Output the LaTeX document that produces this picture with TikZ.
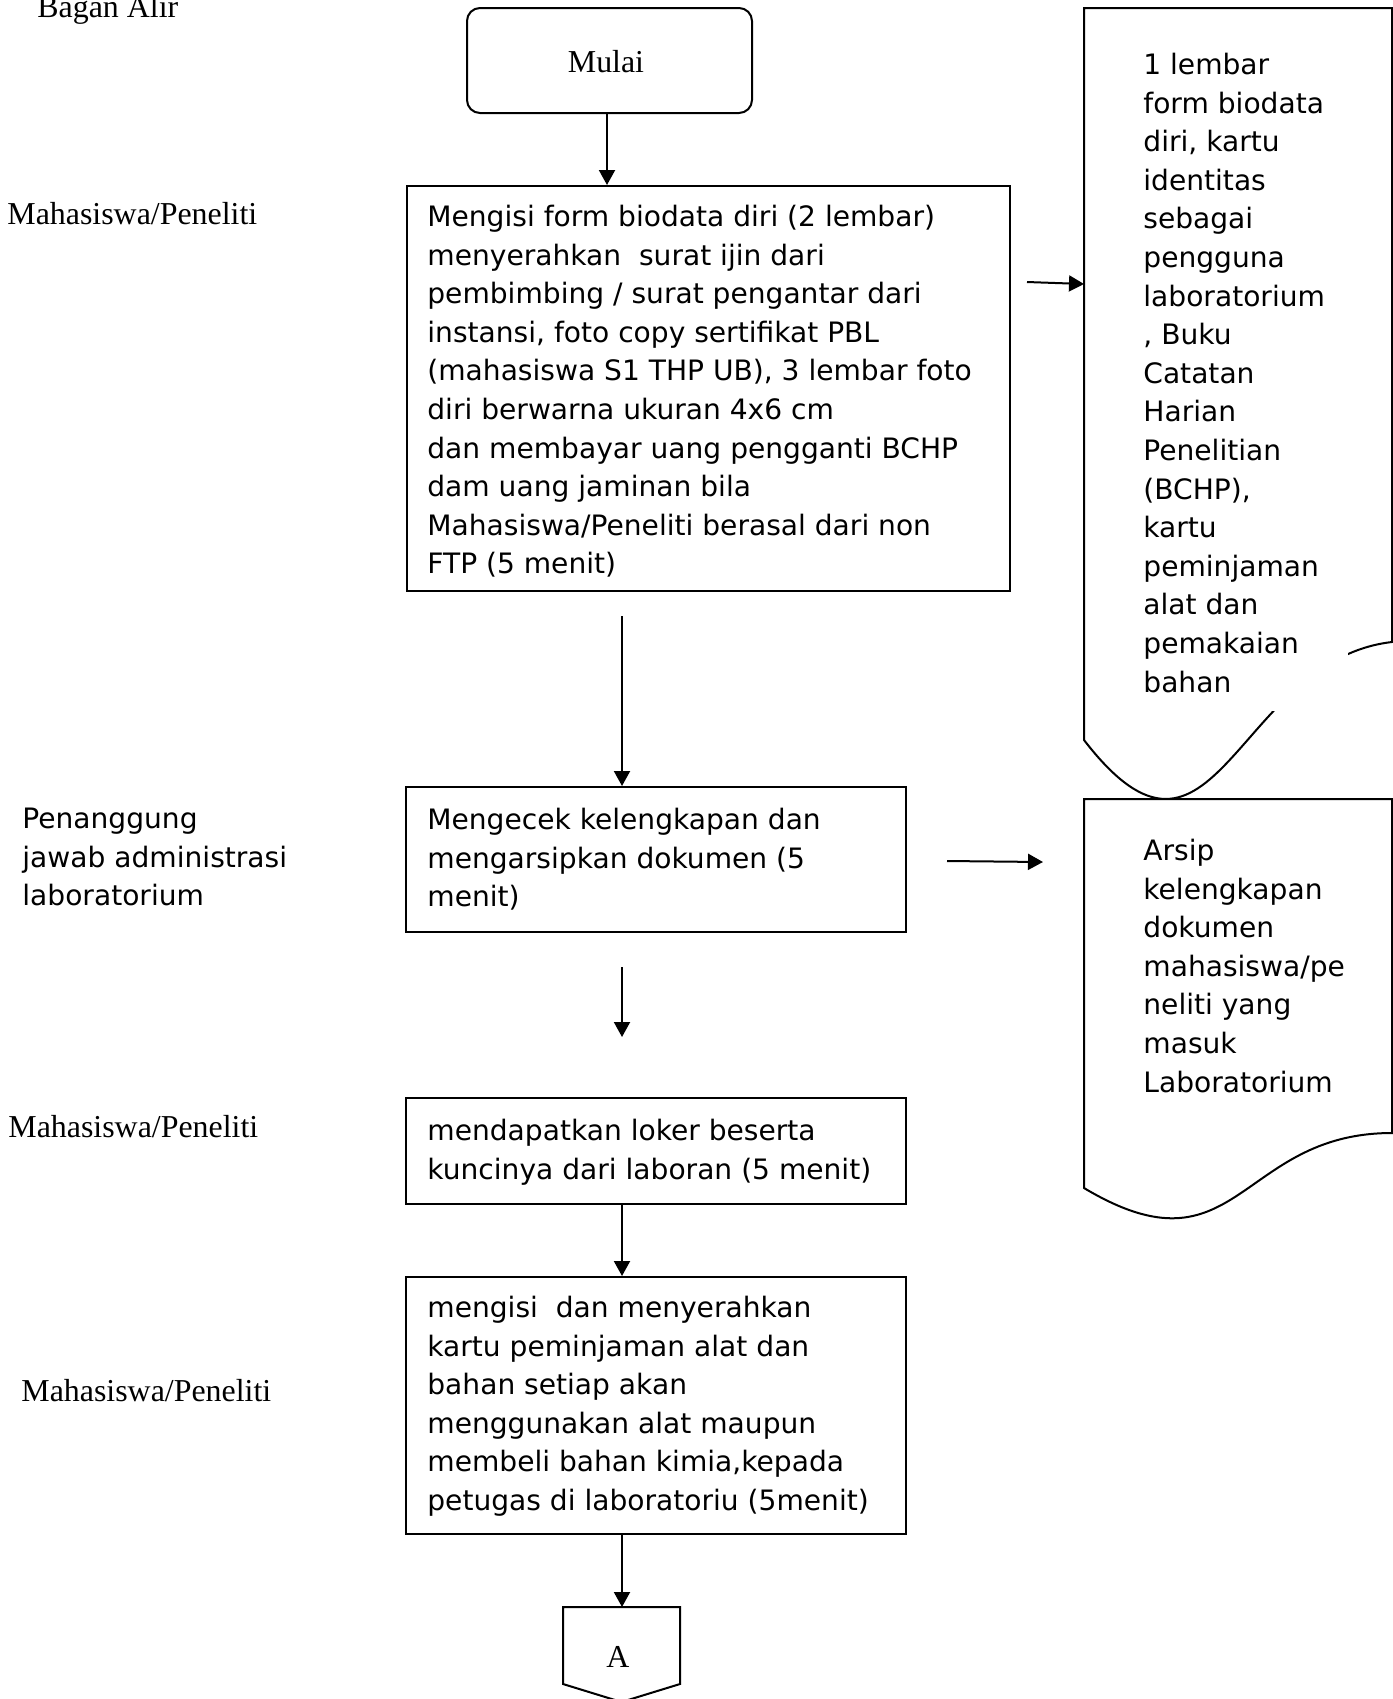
\documentclass[tikz,border=0pt]{standalone}
\usepackage{fontspec}
\setmainfont{Liberation Serif}
\newfontfamily\vsans{DejaVu Sans}
\usetikzlibrary{arrows.meta}
\tikzset{
  box/.style={draw, line width=1pt, inner sep=0pt, rectangle},
  arr/.style={line width=1pt, -{Triangle[length=7.5pt,width=8pt]}},
  docshape/.style={draw, line width=1pt},
  vtxt/.style={font=\vsans\fontsize{14.05}{19.3}\selectfont, align=left, anchor=north west, inner sep=0pt},
  ttxt/.style={font=\fontsize{15.95}{19}\selectfont, anchor=base west, inner sep=0pt},
  tctr/.style={font=\fontsize{15.95}{19}\selectfont, anchor=base, inner sep=0pt},
}
\newcommand\fl{\rule{0pt}{12pt}}
\begin{document}
\begin{tikzpicture}[x=0.5pt, y=-0.5pt]
\useasboundingbox (0,0) rectangle (1393,1699);

% labels
\node[ttxt] (bagan) at (37,17) {Bagan Alir};
\node[ttxt] (lane1) at (7,224) {Mahasiswa/Peneliti};
\node[vtxt] (lane2) at (22,804) {\fl Penanggung\\jawab administrasi\\laboratorium};
\node[ttxt] (lane3) at (8,1137) {Mahasiswa/Peneliti};
\node[ttxt] (lane4) at (21,1401) {Mahasiswa/Peneliti};

% start
\node[box, rounded corners=6.5pt, minimum width=142.5pt, minimum height=52.5pt] (mulai) at (609.5,60.5) {};
\node[tctr] (mulaitxt) at (606,72) {Mulai};

% process boxes
\node[box, minimum width=301.5pt, minimum height=202.5pt] (b1) at (708.5,388.5) {};
\node[vtxt] (b1t) at (427,202) {\fl Mengisi form biodata diri (2 lembar)\\
menyerahkan\ \ surat ijin dari\\
pembimbing / surat pengantar dari\\
instansi, foto copy sertifikat PBL\\
(mahasiswa S1 THP UB), 3 lembar foto\\
diri berwarna ukuran 4x6 cm\\
dan membayar uang pengganti BCHP\\
dam uang jaminan bila\\
Mahasiswa/Peneliti berasal dari non\\
FTP (5 menit)};

\node[box, minimum width=250pt, minimum height=72.5pt] (b2) at (656,859.5) {};
\node[vtxt] (b2t) at (427,805) {\fl Mengecek kelengkapan dan\\mengarsipkan dokumen (5\\menit)};

\node[box, minimum width=250pt, minimum height=53pt] (b3) at (656,1151) {};
\node[vtxt] (b3t) at (427,1116) {\fl mendapatkan loker beserta\\kuncinya dari laboran (5 menit)};

\node[box, minimum width=250pt, minimum height=128.5pt] (b4) at (656,1405.5) {};
\node[vtxt] (b4t) at (427,1293) {\fl mengisi\ \ dan menyerahkan\\
kartu peminjaman alat dan\\
bahan setiap akan\\
menggunakan alat maupun\\
membeli bahan kimia,kepada\\
petugas di laboratoriu (5menit)};

% off-page connector
\draw[docshape] (563,1607) -- (680,1607) -- (680,1684) -- (621.5,1702) -- (563,1684) -- cycle;
\coordinate (offA) at (622,1607);
\node[tctr] (atxt) at (618,1667) {A};

% document shapes
\draw[docshape] (1084,8) -- (1392,8) -- (1392,642)
  .. controls (1235,660) and (1215,910) .. (1084,740) -- cycle;
\fill[white] (1110,30) rectangle (1348,711);
\node[vtxt] (d1t) at (1143,50) {\fl 1 lembar\\form biodata\\diri, kartu\\identitas\\sebagai\\pengguna\\laboratorium\\, Buku\\Catatan\\Harian\\Penelitian\\(BCHP),\\kartu\\peminjaman\\alat dan\\pemakaian\\bahan};

\draw[docshape] (1084,799) -- (1392,799) -- (1392,1133)
  .. controls (1238,1133) and (1238,1280) .. (1084,1188) -- cycle;
\node[vtxt] (d2t) at (1143,836) {\fl Arsip\\kelengkapan\\dokumen\\mahasiswa/pe\\neliti yang\\masuk\\Laboratorium};

\coordinate (d1w) at (1084,284);
\coordinate (d2a) at (1043,862);

% connectors
\draw[arr] (mulai.south -| 607,0) -- (607,0 |- b1.north);
\coordinate (a1s) at (1027,282);
\draw[arr] (a1s) -- (d1w);
\coordinate (a2s) at (622,616);
\draw[arr] (a2s) -- (a2s |- b2.north);
\coordinate (a3s) at (947,861);
\draw[arr] (a3s) -- (d2a);
\coordinate (a4s) at (622,967);
\coordinate (a4e) at (622,1037);
\draw[arr] (a4s) -- (a4e);
\draw[arr] (b3.south -| a4s) -- (b4.north -| a4s);
\draw[arr] (b4.south -| a4s) -- (offA);
\end{tikzpicture}
\end{document}
